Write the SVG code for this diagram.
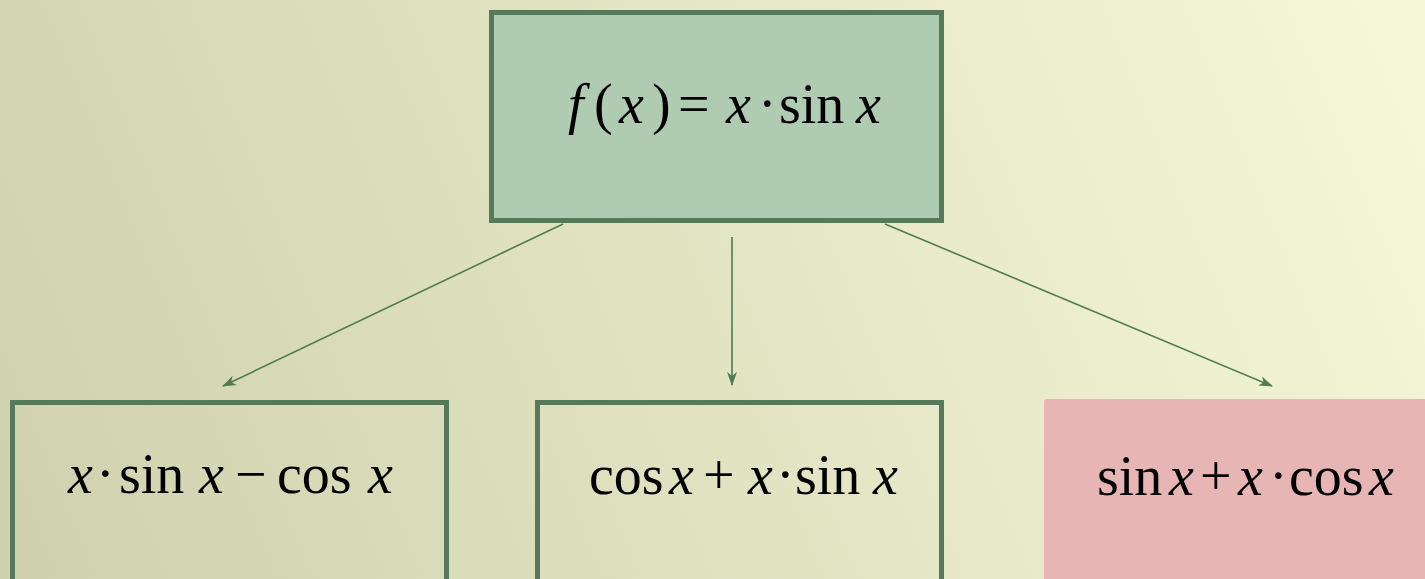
<svg xmlns="http://www.w3.org/2000/svg" width="1425" height="579" viewBox="0 0 1425 579">
<defs>
<linearGradient id="bg" x1="0" y1="579" x2="1425" y2="0" gradientUnits="userSpaceOnUse">
<stop offset="0" stop-color="#cfd0ad"/>
<stop offset="0.55" stop-color="#e5e6c5"/>
<stop offset="1" stop-color="#f5f9d9"/>
</linearGradient>
<marker id="ah" viewBox="0 0 14 10" refX="13" refY="5" markerWidth="14" markerHeight="10" markerUnits="userSpaceOnUse" orient="auto">
<path d="M0,0 L14,5 L0,10 L4,5 Z" fill="#4f7a52"/>
</marker>
<style>
.box{stroke:#557a5a;stroke-width:5}
.m{font-family:"Liberation Serif","Times New Roman",serif;font-size:56px;fill:#000}
.i{font-style:italic}
.c{stroke:#4f7a52;stroke-width:1.6;fill:none}
</style>
</defs>
<rect width="1425" height="579" fill="url(#bg)"/>
<g id="connectors">
<line class="c" x1="563" y1="224" x2="223" y2="386" marker-end="url(#ah)"/>
<line class="c" x1="732" y1="237" x2="732" y2="385" marker-end="url(#ah)"/>
<line class="c" x1="885" y1="224" x2="1272" y2="386" marker-end="url(#ah)"/>
</g>
<g id="node-top">
<rect class="box" x="491.5" y="12.5" width="450" height="208" fill="#afcbb1"/>
<text class="m" y="123"><tspan class="i" x="568">f</tspan><tspan x="594">(</tspan><tspan class="i" x="619">x</tspan><tspan x="652">)</tspan><tspan x="678">=</tspan><tspan class="i" x="726">x</tspan><tspan x="758">·</tspan><tspan x="779">sin</tspan><tspan class="i" x="856">x</tspan></text>
</g>
<g id="node-left">
<rect class="box" x="12.5" y="402.5" width="434" height="190" fill="none"/>
<text class="m" y="493"><tspan class="i" x="68">x</tspan><tspan x="96">·</tspan><tspan x="119">sin</tspan><tspan class="i" x="199">x</tspan><tspan x="235">−</tspan><tspan x="277">cos</tspan><tspan class="i" x="368">x</tspan></text>
</g>
<g id="node-middle">
<rect class="box" x="537.5" y="402.5" width="404" height="190" fill="none"/>
<text class="m" y="494"><tspan x="589">cos</tspan><tspan class="i" x="669">x</tspan><tspan x="703">+</tspan><tspan class="i" x="748">x</tspan><tspan x="776">·</tspan><tspan x="795">sin</tspan><tspan class="i" x="873">x</tspan></text>
</g>
<g id="node-right">
<rect x="1044" y="399" width="400" height="200" rx="3" fill="#e8b5b5"/>
<text class="m" y="495"><tspan x="1097">sin</tspan><tspan class="i" x="1169">x</tspan><tspan x="1200">+</tspan><tspan class="i" x="1238">x</tspan><tspan x="1269">·</tspan><tspan x="1289">cos</tspan><tspan class="i" x="1369">x</tspan></text>
</g>
</svg>
